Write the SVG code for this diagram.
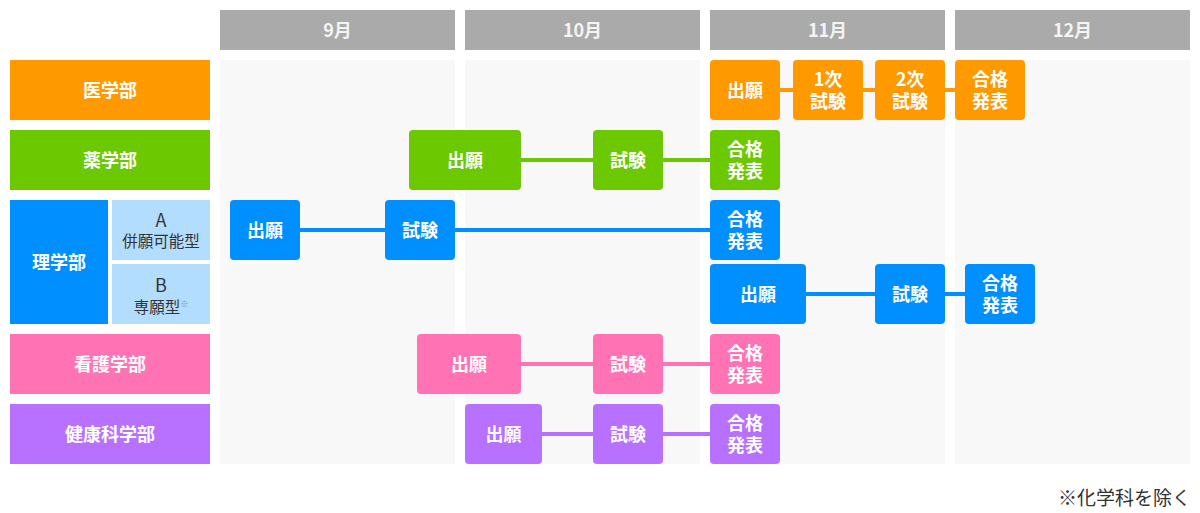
<svg xmlns="http://www.w3.org/2000/svg" width="1200" height="513" viewBox="0 0 1200 513">
<style>
text{font-family:"Noto Sans CJK JP","Noto Sans",sans-serif;}
.hd{fill:#aaaaaa}
.col{fill:#f8f8f8}
.ht{fill:#f4f4f4;font-size:18px;font-weight:bold;text-anchor:middle}
.lt{fill:#fff;font-size:18px;font-weight:bold;text-anchor:middle}
.nt{fill:#fff;font-size:18px;font-weight:bold;text-anchor:middle}
.st{fill:#333;text-anchor:middle}
.or{fill:#ff9900}.gr{fill:#6cc800}.bl{fill:#008fff}.lb{fill:#b3ddff}.pk{fill:#ff73b5}.pu{fill:#b870ff}
.lor{stroke:#ff9900}.lgr{stroke:#6cc800}.lbl{stroke:#008fff}.lpk{stroke:#ff73b5}.lpu{stroke:#b870ff}
#connectors line{stroke-width:4}
</style>
<g id="months">
<rect class="hd" x="220" y="10" width="235" height="40"/><text class="ht" x="337.5" y="37">9月</text>
<rect class="hd" x="465" y="10" width="235" height="40"/><text class="ht" x="582.5" y="37">10月</text>
<rect class="hd" x="710" y="10" width="235" height="40"/><text class="ht" x="827.5" y="37">11月</text>
<rect class="hd" x="955" y="10" width="235" height="40"/><text class="ht" x="1072.5" y="37">12月</text>
<rect class="col" x="220" y="60" width="235" height="404"/>
<rect class="col" x="465" y="60" width="235" height="404"/>
<rect class="col" x="710" y="60" width="235" height="404"/>
<rect class="col" x="955" y="60" width="235" height="404"/>
</g>
<g id="labels">
<g id="lab-igaku"><rect class="or" x="10" y="60" width="200" height="60"/><text class="lt" x="110" y="97">医学部</text></g>
<g id="lab-yaku"><rect class="gr" x="10" y="130" width="200" height="60"/><text class="lt" x="110" y="167">薬学部</text></g>
<g id="lab-ri"><rect class="bl" x="10" y="200" width="98" height="124"/><text class="lt" x="59" y="269">理学部</text></g>
<g id="lab-riA"><rect class="lb" x="112" y="200" width="98" height="60"/><text class="st" x="161" y="227" font-size="18">A<tspan x="161" dy="20" font-size="15.5">併願可能型</tspan></text></g>
<g id="lab-riB"><rect class="lb" x="112" y="264" width="98" height="60"/><text class="st" x="161" y="292" font-size="18">B<tspan x="161" dy="21" font-size="15.5">専願型<tspan font-size="8" dy="-6" fill="#888">※</tspan></tspan></text></g>
<g id="lab-kango"><rect class="pk" x="10" y="334" width="200" height="60"/><text class="lt" x="110" y="371">看護学部</text></g>
<g id="lab-kenko"><rect class="pu" x="10" y="404" width="200" height="60"/><text class="lt" x="110" y="441">健康科学部</text></g>
</g>
<g id="connectors">
<line class="lor" x1="780" y1="90" x2="955" y2="90"/>
<line class="lgr" x1="521" y1="160" x2="710" y2="160"/>
<line class="lbl" x1="300" y1="230" x2="710" y2="230"/>
<line class="lbl" x1="806" y1="294" x2="965" y2="294"/>
<line class="lpk" x1="521" y1="364" x2="710" y2="364"/>
<line class="lpu" x1="542" y1="434" x2="710" y2="434"/>
</g>
<g id="n-i1"><rect class="or" x="710" y="60" width="70" height="60" rx="4"/><text class="nt" x="745" y="97">出願</text></g>
<g id="n-i2"><rect class="or" x="793" y="60" width="70" height="60" rx="4"/><text class="nt" x="828" y="86">1次<tspan x="828" dy="22">試験</tspan></text></g>
<g id="n-i3"><rect class="or" x="875" y="60" width="70" height="60" rx="4"/><text class="nt" x="910" y="86">2次<tspan x="910" dy="22">試験</tspan></text></g>
<g id="n-i4"><rect class="or" x="955" y="60" width="70" height="60" rx="4"/><text class="nt" x="990" y="86">合格<tspan x="990" dy="22">発表</tspan></text></g>
<g id="n-y1"><rect class="gr" x="409" y="130" width="112" height="60" rx="4"/><text class="nt" x="465" y="167">出願</text></g>
<g id="n-y2"><rect class="gr" x="593" y="130" width="70" height="60" rx="4"/><text class="nt" x="628" y="167">試験</text></g>
<g id="n-y3"><rect class="gr" x="710" y="130" width="70" height="60" rx="4"/><text class="nt" x="745" y="156">合格<tspan x="745" dy="22">発表</tspan></text></g>
<g id="n-a1"><rect class="bl" x="230" y="200" width="70" height="60" rx="4"/><text class="nt" x="265" y="237">出願</text></g>
<g id="n-a2"><rect class="bl" x="385" y="200" width="70" height="60" rx="4"/><text class="nt" x="420" y="237">試験</text></g>
<g id="n-a3"><rect class="bl" x="710" y="200" width="70" height="60" rx="4"/><text class="nt" x="745" y="226">合格<tspan x="745" dy="22">発表</tspan></text></g>
<g id="n-b1"><rect class="bl" x="710" y="264" width="96" height="60" rx="4"/><text class="nt" x="758" y="301">出願</text></g>
<g id="n-b2"><rect class="bl" x="875" y="264" width="70" height="60" rx="4"/><text class="nt" x="910" y="301">試験</text></g>
<g id="n-b3"><rect class="bl" x="965" y="264" width="70" height="60" rx="4"/><text class="nt" x="1000" y="290">合格<tspan x="1000" dy="22">発表</tspan></text></g>
<g id="n-k1"><rect class="pk" x="417" y="334" width="104" height="60" rx="4"/><text class="nt" x="469" y="371">出願</text></g>
<g id="n-k2"><rect class="pk" x="593" y="334" width="70" height="60" rx="4"/><text class="nt" x="628" y="371">試験</text></g>
<g id="n-k3"><rect class="pk" x="710" y="334" width="70" height="60" rx="4"/><text class="nt" x="745" y="360">合格<tspan x="745" dy="22">発表</tspan></text></g>
<g id="n-h1"><rect class="pu" x="465" y="404" width="77" height="60" rx="4"/><text class="nt" x="503.5" y="441">出願</text></g>
<g id="n-h2"><rect class="pu" x="593" y="404" width="70" height="60" rx="4"/><text class="nt" x="628" y="441">試験</text></g>
<g id="n-h3"><rect class="pu" x="710" y="404" width="70" height="60" rx="4"/><text class="nt" x="745" y="430">合格<tspan x="745" dy="22">発表</tspan></text></g>
<text x="1191" y="505" font-size="19" fill="#333" text-anchor="end">※化学科を除く</text>
</svg>
